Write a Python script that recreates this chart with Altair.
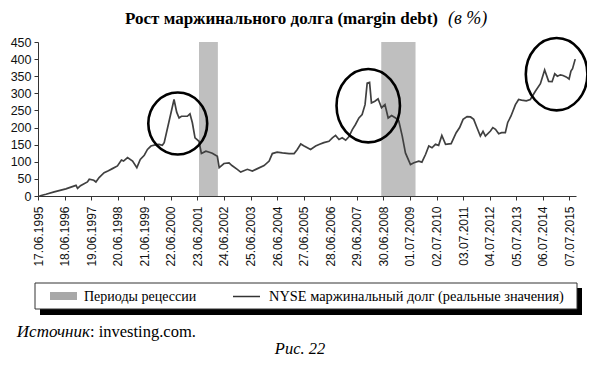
import json
import altair as alt
import pandas as pd

# ---- data (t = years since 17.06.1995, value = margin debt growth, %) ----
t_years = [0.05, 0.3, 0.61, 1.05, 1.43, 1.49, 1.6, 1.86, 1.93, 2.1, 2.18, 2.3, 2.49, 2.65, 2.8, 2.99,
           3.14, 3.22, 3.37, 3.56, 3.72, 3.85, 4.0, 4.12, 4.25, 4.45, 4.56, 4.68, 4.75, 5.12, 5.22,
           5.31, 5.4, 5.62, 5.72, 5.81, 5.91, 6.06, 6.15, 6.32, 6.45, 6.56, 6.75, 6.82, 7.0, 7.19,
           7.3, 7.5, 7.63, 7.88, 8.07, 8.26, 8.51, 8.7, 8.82, 9.0, 9.2, 9.45, 9.64, 9.76, 9.89, 10.0,
           10.07, 10.26, 10.45, 10.6, 10.76, 10.95, 11.08, 11.2, 11.33, 11.45, 11.58, 11.7, 11.83,
           11.95, 12.08, 12.2, 12.31, 12.39, 12.48, 12.55, 12.68, 12.8, 12.93, 13.06, 13.18, 13.31,
           13.46, 13.58, 13.71, 13.83, 14.02, 14.15, 14.33, 14.45, 14.59, 14.71, 14.83, 14.96, 15.08,
           15.2, 15.34, 15.55, 15.74, 15.87, 16.0, 16.15, 16.28, 16.4, 16.52, 16.65, 16.75, 16.84,
           17.03, 17.12, 17.22, 17.34, 17.45, 17.59, 17.68, 17.8, 17.97, 18.09, 18.2, 18.38, 18.53,
           18.72, 18.91, 19.07, 19.22, 19.35, 19.45, 19.55, 19.66, 19.76, 19.88, 19.99, 20.06, 20.12,
           20.22]
debt_values = [0, 5, 12, 21, 31, 22, 30, 41, 49, 46, 41, 54, 68, 74, 80, 88,
               105, 102, 112, 102, 83, 107, 119, 136, 146, 150, 151, 148, 156, 282, 245,
               228, 233, 233, 240, 214, 170, 160, 124, 131, 128, 125, 116, 83, 95, 97,
               89, 78, 70, 78, 73, 80, 89, 102, 124, 128, 126, 124, 124, 136, 152, 147,
               144, 136, 146, 151, 156, 160, 170, 177, 165, 170, 163, 173, 194,
               209, 228, 238, 267, 330, 332, 272, 277, 284, 258, 267, 228, 235,
               228, 219, 175, 126, 92, 97, 102, 99, 122, 146, 141, 151, 148,
               177, 151, 153, 185, 200, 224, 232, 231, 224, 200, 175, 189, 175,
               190, 200, 195, 182, 185, 185, 215, 233, 267, 282, 280, 278, 282,
               306, 328, 368, 335, 334, 357, 350, 354, 352, 348, 342, 365, 372,
               400]

tick_labels = ["17.06.1995", "18.06.1996", "19.06.1997", "20.06.1998", "21.06.1999",
               "22.06.2000", "23.06.2001", "24.06.2002", "25.06.2003", "26.06.2004",
               "27.06.2005", "28.06.2006", "29.06.2007", "30.06.2008", "01.07.2009",
               "02.07.2010", "03.07.2011", "04.07.2012", "05.07.2013", "06.07.2014",
               "07.07.2015"]
y_ticks = [0, 50, 100, 150, 200, 250, 300, 350, 400, 450]

recession_start = [6.06, 12.92]
recession_end = [6.77, 14.21]

# highlighted areas (ellipses): centre in data units
circle_t = [5.26, 12.43, 19.52]
circle_v = [212, 264, 356]

title_main = "Рост маржинального долга (margin debt)"
title_unit = "(в %)"
legend_band = "Периоды рецессии"
legend_line = "NYSE маржинальный долг (реальные значения)"
source_label = "Источник"
source_text = ": investing.com."
figure_label = "Рис. 22"

# ---- layout ----
W, H = 538, 154
SERIF = "Liberation Serif"
SANS = "Liberation Sans"

line_df = pd.DataFrame({"t": t_years, "v": debt_values})
rec_df = pd.DataFrame({"s": recession_start, "e": recession_end})

ell_shapes = [
    "M -0.95 0 A 0.95 1 0 1 0 0.95 0 A 0.95 1 0 1 0 -0.95 0 Z",
    "M -0.864 0 A 0.864 1 0 1 0 0.864 0 A 0.864 1 0 1 0 -0.864 0 Z",
    "M -0.851 0 A 0.851 1 0 1 0 0.851 0 A 0.851 1 0 1 0 -0.851 0 Z",
]
ell_sizes = [3844, 5388, 5242]
ell_df = pd.DataFrame({"t": circle_t, "v": circle_v, "shape": ell_shapes, "size": ell_sizes})

label_expr = json.dumps(tick_labels) + "[round(datum.value)]"

x_scale = alt.Scale(domain=[0, 20.25], nice=False, zero=False)
y_scale = alt.Scale(domain=[0, 450], nice=False)

x_axis = alt.Axis(values=list(range(len(tick_labels))), labelExpr=label_expr, labelAngle=270,
                  labelFont=SANS, labelFontSize=12, labelColor="#111", labelPadding=6,
                  tickSize=4, tickColor="#333", domainColor="#333", grid=False, title=None,
                  labelOverlap=False, labelFlush=False, labelBound=False)
y_axis = alt.Axis(values=y_ticks, labelFont=SANS, labelFontSize=12.5,
                  labelColor="#111", labelPadding=3, tickSize=4, tickColor="#333",
                  domainColor="#333", grid=False, title=None, labelFlush=False,
                  labelOverlap=False, labelBound=False)

bands = alt.Chart(rec_df).mark_rect(color="#bfbfbf").encode(
    x=alt.X("s:Q", scale=x_scale, axis=x_axis),
    x2="e:Q",
    y=alt.value(0),
    y2=alt.value(H),
)

line = alt.Chart(line_df).mark_line(color="#404040", strokeWidth=1.7).encode(
    x=alt.X("t:Q", scale=x_scale, axis=x_axis),
    y=alt.Y("v:Q", scale=y_scale, axis=y_axis),
)

ellipses = alt.Chart(ell_df).mark_point(filled=False, stroke="black", strokeWidth=2.6, opacity=1).encode(
    x=alt.X("t:Q", scale=x_scale, axis=x_axis),
    y=alt.Y("v:Q", scale=y_scale, axis=y_axis),
    shape=alt.Shape("shape:N", scale=None, legend=None),
    size=alt.Size("size:Q", scale=None, legend=None),
)

def text_mark(txt, x, y, size=15, weight="normal", style="normal", align="left", baseline="alphabetic"):
    return alt.Chart(pd.DataFrame({"txt": [txt]})).mark_text(
        font=SERIF, fontSize=size, fontWeight=weight, fontStyle=style, align=align,
        baseline=baseline, color="black"
    ).encode(text="txt:N", x=alt.value(x), y=alt.value(y))

title1 = text_mark(title_main, 400, -18.5, size=17, weight="bold", align="right")
title2 = text_mark(title_unit, 410, -18.5, size=18, style="italic", align="left")

shadow = alt.Chart(pd.DataFrame({"a": [0]})).mark_rect(color="black").encode(
    x=alt.value(2), x2=alt.value(544), y=alt.value(246), y2=alt.value(273))
box = alt.Chart(pd.DataFrame({"a": [0]})).mark_rect(fill="white", stroke="#333", strokeWidth=1).encode(
    x=alt.value(-3), x2=alt.value(539), y=alt.value(241), y2=alt.value(267))
swatch = alt.Chart(pd.DataFrame({"a": [0]})).mark_rect(color="#a8a8a8").encode(
    x=alt.value(12), x2=alt.value(39), y=alt.value(250), y2=alt.value(258))
leg_line = alt.Chart(pd.DataFrame({"a": [0]})).mark_rule(color="#333", strokeWidth=1.5).encode(
    x=alt.value(195), x2=alt.value(222), y=alt.value(254.5))
leg_t1 = text_mark(legend_band, 46, 255, size=14, baseline="middle")
leg_t2 = text_mark(legend_line, 231, 255, size=14.4, baseline="middle")

src1 = text_mark(source_label, 52, 295, size=17, style="italic", align="right")
src2 = text_mark(source_text, 52, 295, size=16.5, align="left")
fig = text_mark(figure_label, 262, 312, size=16.5, style="italic", align="center")

chart = alt.layer(
    bands, line, ellipses, title1, title2, shadow, box, swatch, leg_line, leg_t1, leg_t2,
    src1, src2, fig
).properties(
    width=W, height=H,
    autosize=alt.AutoSizeParams(type="none"),
    padding={"left": 30, "right": 11, "top": 34, "bottom": 162},
    background="white",
).configure_view(stroke=None)

chart.save("out.html", embed_options={"renderer": "svg", "actions": False})
